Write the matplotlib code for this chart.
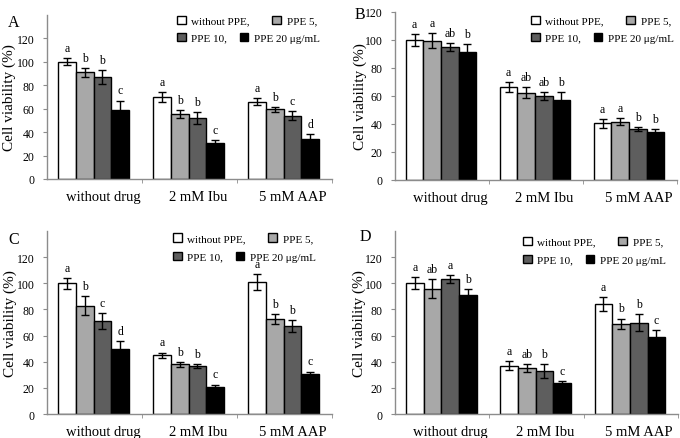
import numpy as np
import matplotlib
matplotlib.use("Agg")
import matplotlib.pyplot as plt
from matplotlib.transforms import ScaledTranslation

plt.rcParams['font.family'] = ['Liberation Serif', 'DejaVu Serif']

groups = ['without drug', '2 mM Ibu', '5 mM AAP']
series = ['without PPE,', 'PPE 5,', 'PPE 10,', 'PPE 20 \u03bcg/mL']
colors = ['#ffffff', '#a8a8a8', '#5e5e5e', '#000000']

# values per panel: rows = series, cols = groups
vals_A = [[100, 70, 66], [91, 55.5, 59.5], [87, 52, 54], [59, 31, 34]]
err_A = [[3, 4.5, 3], [3.5, 3, 2], [6, 5, 4], [8, 2.5, 4.5]]
let_A = [['a', 'a', 'a'], ['b', 'b', 'b'], ['b', 'b', 'c'], ['c', 'c', 'd']]

vals_B = [[100, 66.5, 40.5], [99.5, 62.5, 41.5], [95, 60, 36.5], [91.5, 57, 34.5]]
err_B = [[4.5, 3.5, 3], [5.5, 4, 2.5], [3, 3, 1.5], [5.5, 6, 2]]
let_B = [['a', 'a', 'a'], ['a', 'ab', 'a'], ['ab', 'ab', 'b'], ['b', 'b', 'b']]

vals_C = [[100, 45, 101], [83, 38, 72.5], [71, 37, 67.5], [49.5, 21, 30.5]]
err_C = [[4, 2, 6], [7, 2, 4], [6, 1.5, 4.5], [6, 1.5, 2]]
let_C = [['a', 'a', 'a'], ['b', 'b', 'b'], ['c', 'b', 'b'], ['d', 'c', 'c']]

vals_D = [[100, 37, 84], [96, 35, 69], [103.5, 33, 70], [91, 23.5, 59]]
err_D = [[4.5, 3.5, 5.5], [7.5, 3, 4], [3, 5.5, 6.5], [4.5, 2, 5]]
let_D = [['a', 'a', 'a'], ['ab', 'ab', 'b'], ['a', 'b', 'b'], ['b', 'c', 'c']]

W, H = 680, 439
fig = plt.figure(figsize=(W / 100, H / 100), dpi=100)

# panel: (name, vals, errs, letters, [left, right, top, bottom] px, ymax,
#         legend x px, legend row tops px, label xy px, ylabel x px)
panels = [
    ('A', vals_A, err_A, let_A, [47, 332, 16, 180], 140, 177, (16.5, 33.5), (8, 23), 16),
    ('B', vals_B, err_B, let_B, [395, 677, 13, 181], 120, 531, (16.5, 33.5), (355, 15), 367),
    ('C', vals_C, err_C, let_C, [47, 332, 232, 415], 140, 173, (234, 252.5), (8, 240), 17),
    ('D', vals_D, err_D, let_D, [395, 678, 232, 415], 140, 523, (237.5, 255.5), (360, 237), 366),
]

bw = 0.187
x = np.arange(len(groups))
gray = '#8c8c8c'
leg_kw = dict(ncol=2, frameon=False, loc='upper left', bbox_transform=fig.transFigure,
              borderpad=0, borderaxespad=0, handlelength=0.8, handleheight=0.8,
              handletextpad=0.5, fontsize=8)

for name, vals, errs, lets, (l, r, t, b), ymax, legx, legy, labxy, ylx in panels:
    ax = fig.add_axes([l / W, 1 - b / H, (r - l) / W, (b - t) / H])
    handles = []
    for j in range(4):
        pos = x + 0.49 + (j - 1.5) * bw
        h = ax.bar(pos, vals[j], bw, color=colors[j], edgecolor='black', linewidth=1.0,
                   yerr=errs[j], error_kw=dict(ecolor='black', elinewidth=1.0, capsize=3, capthick=1.0),
                   label=series[j], zorder=2)
        handles.append(h)
        for k in range(len(groups)):
            ax.annotate(lets[j][k], (pos[k], vals[j][k] + errs[j][k]), xytext=(0, 3),
                        textcoords='offset points', ha='center', va='bottom', fontsize=8.5)
    ax.set_xlim(0, 3)
    ax.set_ylim(0, ymax)
    ax.set_yticks(np.arange(0, 121, 20))
    ax.set_xticks(x + 0.5)
    ax.set_xticklabels(groups, fontsize=10.5)
    ax.set_xticks([1, 2, 3], minor=True)
    ax.tick_params(axis='x', which='major', length=0, pad=8)
    ax.tick_params(axis='x', which='minor', length=3, color=gray)
    ax.tick_params(axis='y', length=3, color=gray, pad=6, labelsize=8.5)
    for lab in ax.get_xticklabels():
        lab.set_transform(lab.get_transform() + ScaledTranslation(6 / 72, 0, fig.dpi_scale_trans))
    for s in ['top', 'right']:
        ax.spines[s].set_visible(False)
    for s in ['left', 'bottom']:
        ax.spines[s].set_color(gray)
        ax.spines[s].set_linewidth(1.0)
    ax.set_ylabel('Cell viability (%)', fontsize=11)
    ax.yaxis.set_label_coords(ylx / W, 1 - ((t + b) / 2) / H, transform=fig.transFigure)

    # legend laid out row by row, like the original
    leg1 = ax.legend(handles[:2], series[:2], bbox_to_anchor=(legx / W, 1 - legy[0] / H),
                     columnspacing=2.0, **leg_kw)
    ax.add_artist(leg1)
    ax.legend(handles[2:], series[2:], bbox_to_anchor=(legx / W, 1 - legy[1] / H),
              columnspacing=1.1, **leg_kw)
    fig.text(labxy[0] / W, 1 - labxy[1] / H, name, fontsize=11.5, ha='left', va='center')

fig.savefig('out.png', dpi=100)
